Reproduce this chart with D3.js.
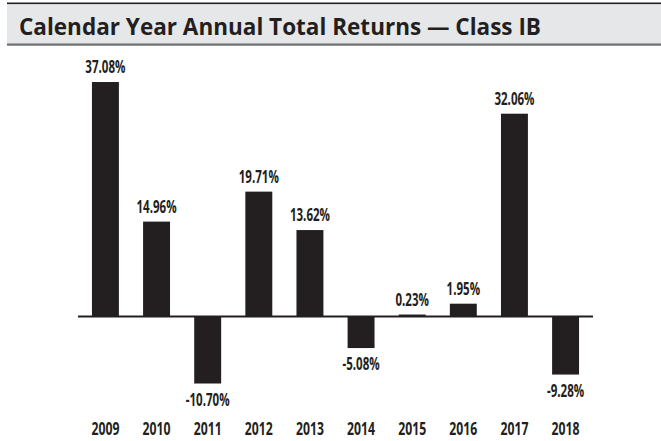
<!DOCTYPE html>
<html>
<head>
<meta charset="utf-8">
<script src="https://cdn.jsdelivr.net/npm/d3@7"></script>
<style>
  html, body { margin: 0; padding: 0; background: #fff; }
  svg { display: block; }
</style>
</head>
<body>
<div id="chart"></div>
<script>
const years = ['2009', '2010', '2011', '2012', '2013', '2014', '2015', '2016', '2017', '2018']
const returns = [37.08, 14.96, -10.70, 19.71, 13.62, -5.08, 0.23, 1.95, 32.06, -9.28]
const title = 'Calendar Year Annual Total Returns — Class IB'

const width = 661
const height = 441
const ink = '#231f20'
const narrow = '"Open Sans", sans-serif'

const svg = d3.select('#chart')
  .append('svg')
  .attr('width', width)
  .attr('height', height)

// header band
svg.append('rect')
  .attr('x', 7).attr('y', 4)
  .attr('width', width - 7).attr('height', 40)
  .attr('fill', '#e6e7e8')
svg.append('rect')
  .attr('x', 7).attr('y', 2.5)
  .attr('width', width - 7).attr('height', 1.6)
  .attr('fill', ink)
svg.append('rect')
  .attr('x', 7).attr('y', 43.5)
  .attr('width', width - 7).attr('height', 2.2)
  .attr('fill', '#6d6e71')

svg.append('text')
  .attr('x', 19)
  .attr('y', 35)
  .attr('font-family', '"Open Sans", sans-serif')
  .attr('font-weight', 'bold')
  .attr('font-size', 23)
  .attr('fill', ink)
  .attr('textLength', 522)
  .attr('lengthAdjust', 'spacingAndGlyphs')
  .text(title)

const x = d3.scaleBand()
  .domain(years)
  .range([78, 593])
  .paddingInner(0.473)
  .paddingOuter(0.273)

const y = d3.scaleLinear()
  .domain([-15, 40])
  .range([316 + 15 * 6.31, 316 - 40 * 6.31])

const data = years.map((yr, i) => ({ year: yr, value: returns[i] }))

svg.selectAll('rect.bar')
  .data(data)
  .enter()
  .append('rect')
  .attr('class', 'bar')
  .attr('x', d => x(d.year))
  .attr('width', x.bandwidth())
  .attr('y', d => y(Math.max(0, d.value)))
  .attr('height', d => Math.abs(y(d.value) - y(0)))
  .attr('fill', ink)

// zero line
svg.append('line')
  .attr('x1', x.range()[0]).attr('x2', x.range()[1])
  .attr('y1', y(0) + 0.5).attr('y2', y(0) + 0.5)
  .attr('stroke', ink)
  .attr('stroke-width', 2)

// squeeze labels to look like the condensed face of the original
const condense = (sel, ratio) => {
  sel.each(function () {
    const len = this.getComputedTextLength()
    d3.select(this)
      .attr('textLength', len * ratio)
      .attr('lengthAdjust', 'spacingAndGlyphs')
  })
}

const valueLabels = svg.selectAll('text.value')
  .data(data)
  .enter()
  .append('text')
  .attr('class', 'value')
  .attr('x', d => x(d.year) + x.bandwidth() / 2)
  .attr('y', d => d.value >= 0 ? y(d.value) - 9 : y(d.value) + 22)
  .attr('text-anchor', 'middle')
  .attr('font-family', narrow)
  .attr('font-weight', 'bold')
  .attr('font-size', 17.5)
  .attr('fill', ink)
  .text(d => `${d.value.toFixed(2)}%`)
condense(valueLabels, 0.66)

const yearLabels = svg.selectAll('text.year')
  .data(data)
  .enter()
  .append('text')
  .attr('class', 'year')
  .attr('x', d => x(d.year) + x.bandwidth() / 2)
  .attr('y', 435)
  .attr('text-anchor', 'middle')
  .attr('font-family', narrow)
  .attr('font-weight', 'bold')
  .attr('font-size', 17)
  .attr('fill', ink)
  .text(d => d.year)
condense(yearLabels, 0.72)
</script>
</body>
</html>
